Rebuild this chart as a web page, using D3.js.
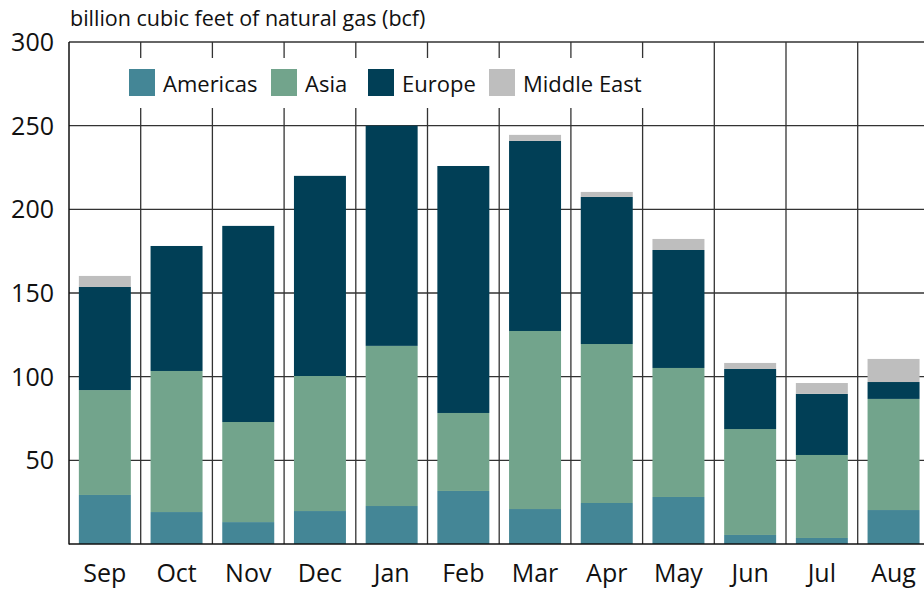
<!DOCTYPE html>
<html>
<head>
<meta charset="utf-8">
<script src="https://cdnjs.cloudflare.com/ajax/libs/d3/7.8.5/d3.min.js"></script>
<style>
body { margin: 0; background: #fff; }
svg { display: block; font-family: "Open Sans", sans-serif; }
</style>
</head>
<body>
<script>
// monthly exports, billion cubic feet
var months = ["Sep", "Oct", "Nov", "Dec", "Jan", "Feb", "Mar", "Apr", "May", "Jun", "Jul", "Aug"]
var americas = [29.3, 19.1, 13.1, 19.7, 22.7, 31.7, 20.9, 24.5, 28.1, 5.4, 3.6, 20.3]
var asia = [62.7, 84.3, 59.8, 80.7, 95.7, 46.6, 106.4, 95.0, 77.1, 63.3, 49.6, 66.4]
var europe = [61.6, 74.7, 117.2, 119.6, 131.6, 147.6, 113.6, 87.9, 70.5, 35.9, 36.5, 10.1]
var middleEast = [6.6, 0, 0, 0, 0, 0, 3.6, 3.0, 6.6, 3.6, 6.5, 13.8]
var seriesNames = ["Americas", "Asia", "Europe", "Middle East"]
var yTicks = [50, 100, 150, 200, 250, 300]
var title = "billion cubic feet of natural gas (bcf)"

var colors = ["#448696", "#72a48c", "#013f56", "#bebebe"]

var W = 924, H = 591
var plotLeft = 69, plotTop = 42, plotBottom = 544
var step = 71.7

var svg = d3.select("body").append("svg")
    .attr("width", W)
    .attr("height", H)

var table = months.map(function (m, i) {
  return { month: m, Americas: americas[i], Asia: asia[i], Europe: europe[i], "Middle East": middleEast[i] }
})

var x = d3.scaleBand()
    .domain(months)
    .range([plotLeft, plotLeft + step * months.length])
    .paddingInner(0.275)
    .paddingOuter(0.1375)

var y = d3.scaleLinear()
    .domain([0, 300])
    .range([plotBottom, plotTop])

// grid
var grid = svg.append("g").attr("stroke", "#333").attr("stroke-width", 1.3)
grid.selectAll("line.h")
  .data(yTicks)
  .enter().append("line")
    .attr("class", "h")
    .attr("x1", plotLeft).attr("x2", W)
    .attr("y1", d => y(d)).attr("y2", d => y(d))
grid.selectAll("line.v")
  .data(d3.range(1, months.length + 1))
  .enter().append("line")
    .attr("class", "v")
    .attr("x1", i => plotLeft + x.step() * i).attr("x2", i => plotLeft + x.step() * i)
    .attr("y1", plotTop).attr("y2", plotBottom)

// stacked bars
var stack = d3.stack().keys(seriesNames)(table)
svg.append("g").selectAll("g")
  .data(stack)
  .enter().append("g")
    .attr("fill", (d, i) => colors[i])
  .selectAll("rect")
  .data(d => d)
  .enter().append("rect")
    .attr("x", d => x(d.data.month))
    .attr("width", x.bandwidth())
    .attr("y", d => y(d[1]))
    .attr("height", d => y(d[0]) - y(d[1]))

// axes lines
svg.append("line")
    .attr("x1", plotLeft).attr("x2", plotLeft)
    .attr("y1", plotTop).attr("y2", plotBottom + 0.6)
    .attr("stroke", "#111").attr("stroke-width", 1.5)
svg.append("line")
    .attr("x1", plotLeft).attr("x2", W)
    .attr("y1", plotBottom).attr("y2", plotBottom)
    .attr("stroke", "#111").attr("stroke-width", 1.5)

// y labels
svg.append("g").selectAll("text")
  .data(yTicks)
  .enter().append("text")
    .attr("x", 54)
    .attr("y", d => y(d) + 9)
    .attr("text-anchor", "end")
    .attr("font-size", 25)
    .attr("fill", "#111")
    .text(d => d)

// x labels
svg.append("g").selectAll("text")
  .data(months)
  .enter().append("text")
    .attr("x", d => x(d) + x.bandwidth() / 2)
    .attr("y", 582)
    .attr("text-anchor", "middle")
    .attr("font-size", 25)
    .attr("fill", "#111")
    .text(d => d)

svg.append("text")
    .attr("x", 70)
    .attr("y", 26)
    .attr("font-size", 21.5)
    .attr("fill", "#111")
    .text(title)

// legend
svg.append("rect")
    .attr("x", 110).attr("y", 58)
    .attr("width", 538).attr("height", 50)
    .attr("fill", "#fff")
var legendX = [129, 271, 368, 489]
var leg = svg.append("g").selectAll("g")
  .data(seriesNames)
  .enter().append("g")
    .attr("transform", (d, i) => "translate(" + legendX[i] + ",69)")
leg.append("rect")
    .attr("width", 26).attr("height", 27)
    .attr("fill", (d, i) => colors[i])
leg.append("text")
    .attr("x", 34).attr("y", 23)
    .attr("font-size", 22)
    .attr("fill", "#111")
    .text(d => d)
</script>
</body>
</html>
